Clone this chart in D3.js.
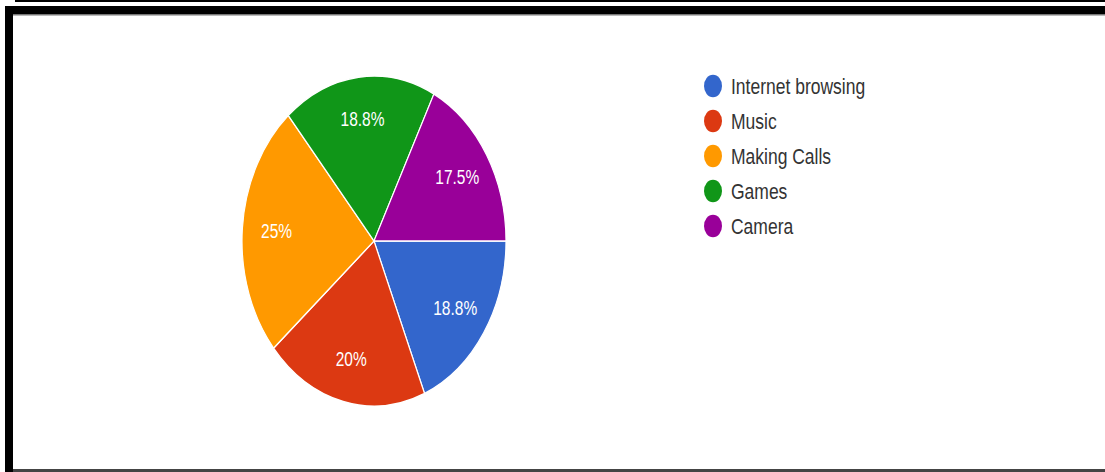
<!DOCTYPE html>
<html>
<head>
<meta charset="utf-8">
<script src="https://cdn.jsdelivr.net/npm/d3@7"></script>
<style>
  html, body { margin: 0; padding: 0; background: #fff; }
  svg { display: block; }
</style>
</head>
<body>
<svg id="chart" width="1105" height="472"></svg>
<script>
// ---- Data ----
const categories = ["Internet browsing", "Music", "Making Calls", "Games", "Camera"];
const responses  = [15, 16, 20, 15, 14];          // out of 80 responses
const percentLabels = ["18.8%", "20%", "25%", "18.8%", "17.5%"];
const sliceColors = ["#3366cc", "#dc3912", "#ff9900", "#109618", "#990099"];

// ---- Layout ----
const W = 1105, H = 472;
const stretchY = 1.25;            // the picture is stretched vertically
const svg = d3.select("#chart");

// frame
svg.append("rect").attr("x", 15).attr("y", 0).attr("width", W - 15).attr("height", 2).attr("fill", "#000");
svg.append("rect").attr("x", 5).attr("y", 6).attr("width", W - 5).attr("height", 8).attr("fill", "#000");
svg.append("rect").attr("x", 5).attr("y", 14).attr("width", W - 5).attr("height", 1.5).attr("fill", "#777");
svg.append("rect").attr("x", 5).attr("y", 6).attr("width", 8).attr("height", H - 6).attr("fill", "#000");
svg.append("rect").attr("x", 13).attr("y", 469).attr("width", W - 13).attr("height", 3).attr("fill", "#444");

const g = svg.append("g").attr("transform", `scale(1,${stretchY})`);

const cx = 374, cy = 241 / stretchY, R = 132;

const color = d3.scaleOrdinal().domain(categories).range(sliceColors);

const pie = d3.pie()
  .value((d, i) => responses[i])
  .sort(null)
  .startAngle(Math.PI / 2)
  .endAngle(Math.PI / 2 + 2 * Math.PI);

const arcs = pie(categories);
const arc = d3.arc().innerRadius(0).outerRadius(R);
const labelArc = d3.arc().innerRadius(R * 0.74).outerRadius(R * 0.74);

const pg = g.append("g").attr("transform", `translate(${cx},${cy})`);

pg.selectAll("path.slice")
  .data(arcs)
  .join("path")
  .attr("class", "slice")
  .attr("d", arc)
  .attr("fill", d => color(d.data))
  .attr("stroke", "#fff")
  .attr("stroke-width", 1.2);

pg.selectAll("text.pct")
  .data(arcs)
  .join("text")
  .attr("class", "pct")
  .attr("transform", d => `translate(${labelArc.centroid(d)})`)
  .attr("text-anchor", "middle")
  .attr("dominant-baseline", "central")
  .attr("font-family", "Liberation Sans, Arial, sans-serif")
  .attr("font-size", 15.5)
  .attr("fill", "#fff")
  .text(d => percentLabels[d.index]);

// legend
const legendY = d3.scalePoint()
  .domain(categories)
  .range([86 / stretchY, 226 / stretchY]);

const lg = g.append("g");
const items = lg.selectAll("g.item")
  .data(categories)
  .join("g")
  .attr("class", "item")
  .attr("transform", d => `translate(713,${legendY(d)})`);

items.append("circle")
  .attr("r", 9)
  .attr("fill", d => color(d));

items.append("text")
  .attr("x", 18)
  .attr("dominant-baseline", "central")
  .attr("font-family", "Liberation Sans, Arial, sans-serif")
  .attr("font-size", 17.5)
  .attr("fill", "#333")
  .text(d => d);
</script>
</body>
</html>
